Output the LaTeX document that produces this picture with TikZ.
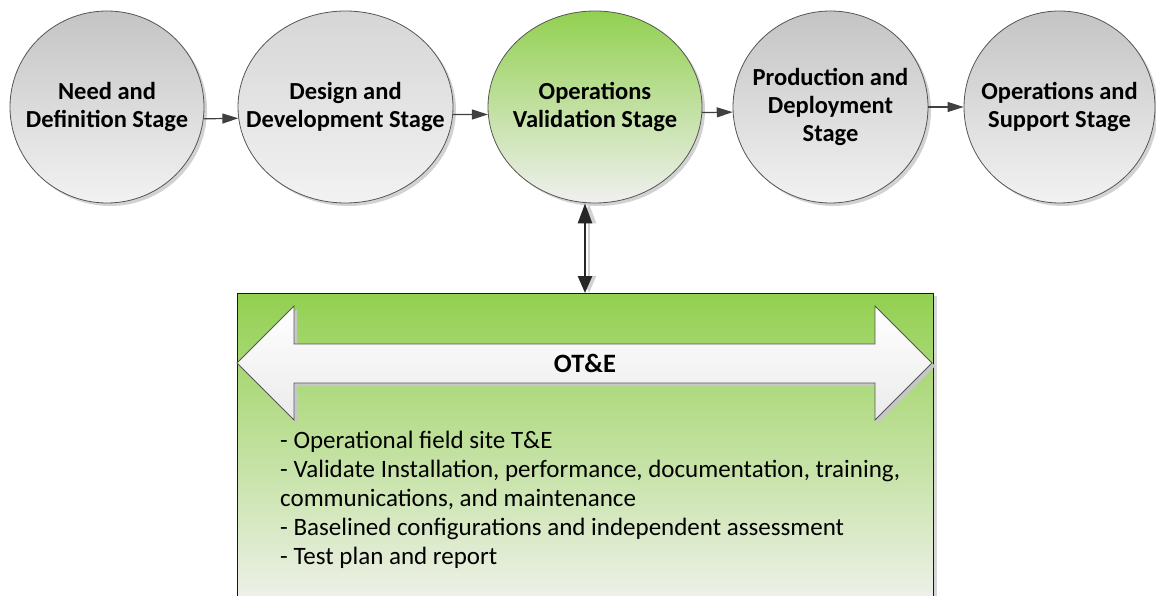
\documentclass[tikz,border=0pt]{standalone}
\usepackage{fontspec}
\setmainfont{Carlito}
\usetikzlibrary{arrows.meta,shadows,shapes.geometric}
\definecolor{greytop}{HTML}{C4C4C4}
\definecolor{greytopl}{HTML}{D6D6D6}
\definecolor{greybot}{HTML}{F2F2F2}
\definecolor{greentop}{HTML}{92D050}
\definecolor{greenbot}{HTML}{F0F0F0}
\definecolor{boxbot}{HTML}{F2F2F0}
\definecolor{conn}{HTML}{404040}
\definecolor{edge}{HTML}{555555}
\begin{document}
\begin{tikzpicture}[x=1pt,y=-1pt,
  stage/.style={ellipse, draw=edge, line width=0.8pt, minimum height=192pt,
    inner xsep=-45pt, inner ysep=-25pt,
    align=center, font=\bfseries\fontsize{24.5}{28}\selectfont,
    top color=greytop, bottom color=greybot,
    drop shadow={shadow xshift=3pt, shadow yshift=-3pt, fill=black!22, opacity=0.8}},
  flow/.style={draw=conn, line width=1.2pt, -{Triangle[length=16pt,width=10pt]}},
  vflow/.style={draw=black!85, line width=2.6pt, {Triangle[length=17pt,width=14pt]}-{Triangle[length=20pt,width=14pt]}},
  vshadow/.style={draw=black!18, line width=2.6pt, {Triangle[length=17pt,width=14pt]}-{Triangle[length=20pt,width=14pt]}},
  notes/.style={anchor=base west, inner sep=0pt, font=\fontsize{25}{29}\selectfont},
]
\useasboundingbox (0,0) rectangle (1156,596);
\clip (0,0) rectangle (1156,596);

% stages
\node[stage, minimum width=194pt] (c1) at (107,107) {Need and\\Definition Stage};
\node[stage, minimum width=215pt, top color=greytopl] (c2) at (345.5,107) {Design and\\Development Stage};
\node[stage, minimum width=214pt, top color=greentop, bottom color=greenbot] (c3) at (595,107) {Operations\\Validation Stage};
\node[stage, minimum width=195pt] (c4) at (830.5,107) {Production and\\Deployment\\Stage};
\node[stage, minimum width=191pt] (c5) at (1059.5,107) {Operations and\\Support Stage};

% connectors between stages
\draw[flow] (c1.-7.6) -- (c2.186.9);
\draw[flow] (c2.-4.3) -- (c3.184.3);
\draw[flow] (c3.-3.2) -- (c4.183.5);
\draw[flow] (c4.-0.5) -- (c5.180.5);

% OT&E box
\node[rectangle, draw=black!60!green!40!black, line width=0.8pt, minimum width=696pt, minimum height=320pt,
  anchor=north, inner sep=0pt, top color=greentop, bottom color=boxbot,
  drop shadow={shadow xshift=4pt, shadow yshift=-3pt, fill=black!20, opacity=0.8}] (box) at (585,293) {};

% vertical double arrow
\draw[vshadow] ([xshift=4pt]box.north) -- ([xshift=4pt]box.north |- c3.south);
\draw[vflow] (box.north) -- (box.north |- c3.south);

% white double block arrow
\fill[black!22] (240,366) -- (297,309) -- (297,347) -- (878,347) -- (878,309) -- (935,366)
  -- (878,423) -- (878,386) -- (297,386) -- (297,423) -- cycle;
\draw[draw=edge, line width=0.8pt, top color=white, bottom color=black!8]
  (237,363) -- (294,306) -- (294,344) -- (875,344) -- (875,306) -- (932,363)
  -- (875,420) -- (875,383) -- (294,383) -- (294,420) -- cycle;
\node[font=\bfseries\fontsize{26.5}{30}\selectfont, inner sep=0pt] (ote) at (585,363) {OT\&E};

% notes
\node[notes] (n1) at (280,448) {- Operational field site T\&E};
\node[notes] (n2) at (280,477) {- Validate Installation, performance, documentation, training,};
\node[notes] (n3) at (280,506) {communications, and maintenance};
\node[notes] (n4) at (280,535) {- Baselined configurations and independent assessment};
\node[notes] (n5) at (280,564) {- Test plan and report};
\end{tikzpicture}
\end{document}
